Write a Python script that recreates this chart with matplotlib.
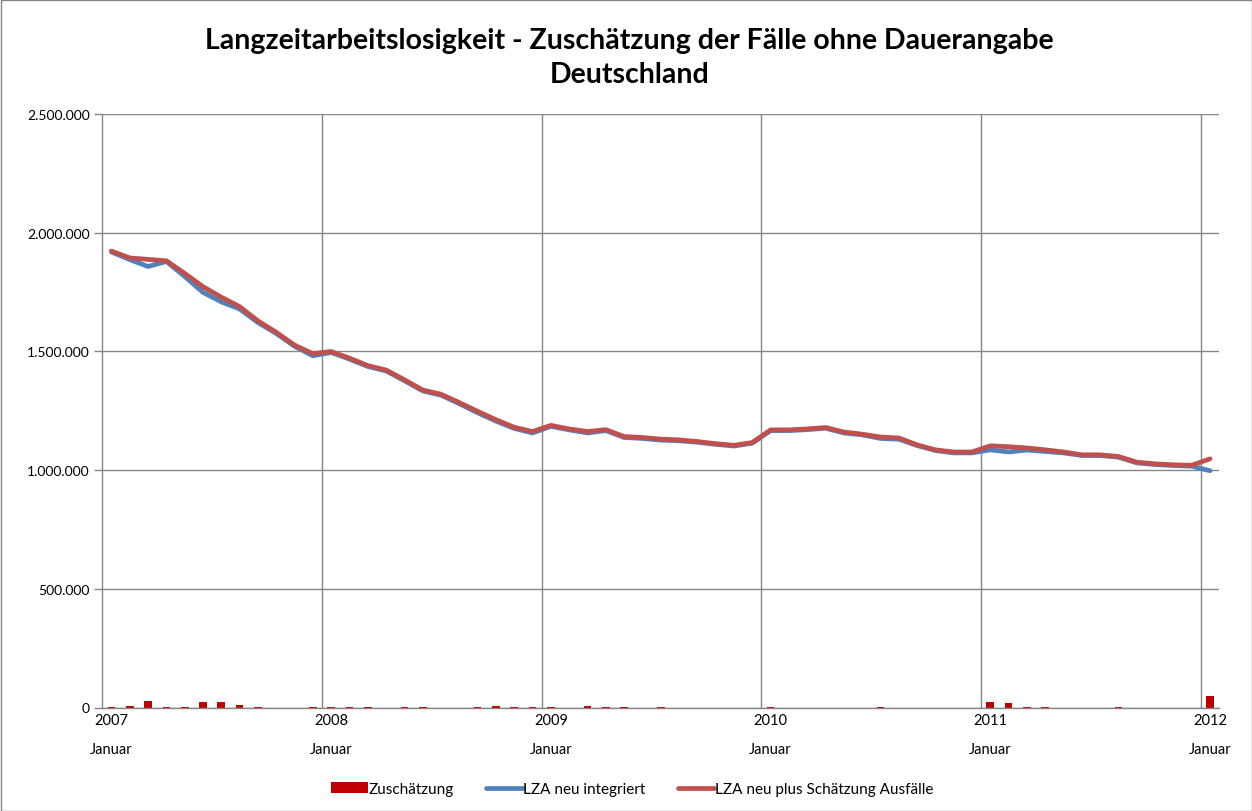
import matplotlib
matplotlib.use("Agg")
import matplotlib.pyplot as plt
from matplotlib.ticker import FuncFormatter, FixedLocator
from matplotlib.patches import Rectangle
import numpy as np

# ---------------- data ----------------
months = list(range(61))  # Jan 2007 .. Jan 2012
year_labels = ["2007", "2008", "2009", "2010", "2011", "2012"]
year_positions = [0, 12, 24, 36, 48, 60]
month_label = "Januar"

zuschaetzung = [1300, 5000, 28000, 1300, 1300, 22000, 22000, 12000, 1300, 0,
                0, 1300, 1300, 1300, 1300, 0, 1300, 1300, 0, 0,
                1300, 5000, 1300, 1300, 1300, 0, 5000, 1300, 1300, 0,
                1300, 0, 0, 0, 0, 0, 1300, 0, 0, 0,
                0, 0, 1300, 0, 0, 0, 0, 0, 22000, 20000,
                1300, 1300, 0, 0, 0, 1300, 0, 0, 0, 0,
                48000]

lza_neu = [1918000, 1886000, 1857000, 1878000, 1815000, 1748000, 1708000, 1678000, 1621000, 1575000,
           1521000, 1481000, 1495000, 1467000, 1436000, 1417000, 1376000, 1333000, 1315000, 1279000,
           1241000, 1206000, 1175000, 1156000, 1184000, 1169000, 1156000, 1166000, 1137000, 1133000,
           1126000, 1123000, 1117000, 1108000, 1101000, 1113000, 1166000, 1166000, 1170000, 1176000,
           1156000, 1148000, 1133000, 1130000, 1103000, 1082000, 1072000, 1072000, 1085000, 1076000,
           1084000, 1078000, 1072000, 1061000, 1061000, 1054000, 1030000, 1023000, 1019000, 1016000,
           997000]

lza_plus = [1922000, 1893000, 1887000, 1881000, 1828000, 1772000, 1728000, 1688000, 1628000, 1580000,
            1526000, 1490000, 1499000, 1471000, 1440000, 1421000, 1380000, 1337000, 1319000, 1284000,
            1247000, 1212000, 1180000, 1162000, 1188000, 1173000, 1162000, 1170000, 1141000, 1137000,
            1130000, 1127000, 1120000, 1111000, 1104000, 1116000, 1169000, 1169000, 1173000, 1179000,
            1160000, 1151000, 1139000, 1135000, 1106000, 1085000, 1076000, 1076000, 1102000, 1098000,
            1093000, 1085000, 1076000, 1064000, 1064000, 1057000, 1033000, 1026000, 1022000, 1020000,
            1047000]

y_ticks = [0, 500000, 1000000, 1500000, 2000000, 2500000]

title_line1 = "Langzeitarbeitslosigkeit - Zuschätzung der Fälle ohne Dauerangabe"
title_line2 = "Deutschland"
series_names = ["Zuschätzung", "LZA neu integriert", "LZA neu plus Schätzung Ausfälle"]

# ---------------- style ----------------
plt.rcParams['font.family'] = ['Lato', 'DejaVu Sans']
W, H = 1252, 812
fig = plt.figure(figsize=(W / 100, H / 100), dpi=100)
fig.patch.set_facecolor("white")

left, right, bottom, top = 102.3, 1219.2, 708.5, 114.8
ax = fig.add_axes([left / W, 1 - bottom / H, (right - left) / W, (bottom - top) / H])

grid_col = "#868686"

bars = ax.bar(months, zuschaetzung, width=0.42, color="#C00000", zorder=2)
l1, = ax.plot(months, lza_neu, color="#4F81BD", lw=3.4, zorder=3, solid_capstyle="round")
l2, = ax.plot(months, lza_plus, color="#C0504D", lw=3.4, zorder=4, solid_capstyle="round")

ax.set_xlim(-0.5, 60.5)
ax.set_ylim(0, 2500000)

ax.yaxis.set_major_locator(FixedLocator(y_ticks))
ax.yaxis.set_major_formatter(FuncFormatter(lambda v, p: f"{int(v):,}".replace(",", ".")))
ax.tick_params(axis="y", length=6, width=1, color=grid_col, labelsize=10, pad=3, labelcolor="black")
ax.grid(axis="y", color=grid_col, lw=1)

# vertical gridlines at year boundaries
ax.set_xticks([p - 0.5 for p in year_positions[1:]], minor=True)
ax.grid(axis="x", which="minor", color=grid_col, lw=1)
ax.set_xticks(year_positions)
ax.set_xticklabels(year_labels)
ax.tick_params(axis="x", which="both", length=0, labelsize=10.5, pad=4)
for p in year_positions:
    ax.annotate(month_label, xy=(p, 0), xycoords=("data", "axes fraction"),
                xytext=(0, -30), textcoords="offset points", ha="center", va="center",
                fontsize=10.5, annotation_clip=False)

for s in ["top", "right"]:
    ax.spines[s].set_visible(False)
for s in ["left", "bottom"]:
    ax.spines[s].set_color(grid_col)
    ax.spines[s].set_linewidth(1)
ax.set_axisbelow(True)

fig.text(0.503, 1 - 41 / H, title_line1, ha="center", va="center", fontsize=20.5, fontweight="bold")
fig.text(0.503, 1 - 75 / H, title_line2, ha="center", va="center", fontsize=20.5, fontweight="bold")

fig.legend([bars, l1, l2], series_names, loc="center", bbox_to_anchor=(0.505, 1 - 790 / H),
           ncol=3, frameon=False, fontsize=11, handlelength=2.4, handletextpad=0.05,
           columnspacing=2.1)

fig.add_artist(Rectangle((0.5 / W, 0.5 / H), 1 - 1 / W, 1 - 1 / H, transform=fig.transFigure,
                         fill=False, edgecolor=grid_col, lw=1))

fig.savefig("out.png", dpi=100)
